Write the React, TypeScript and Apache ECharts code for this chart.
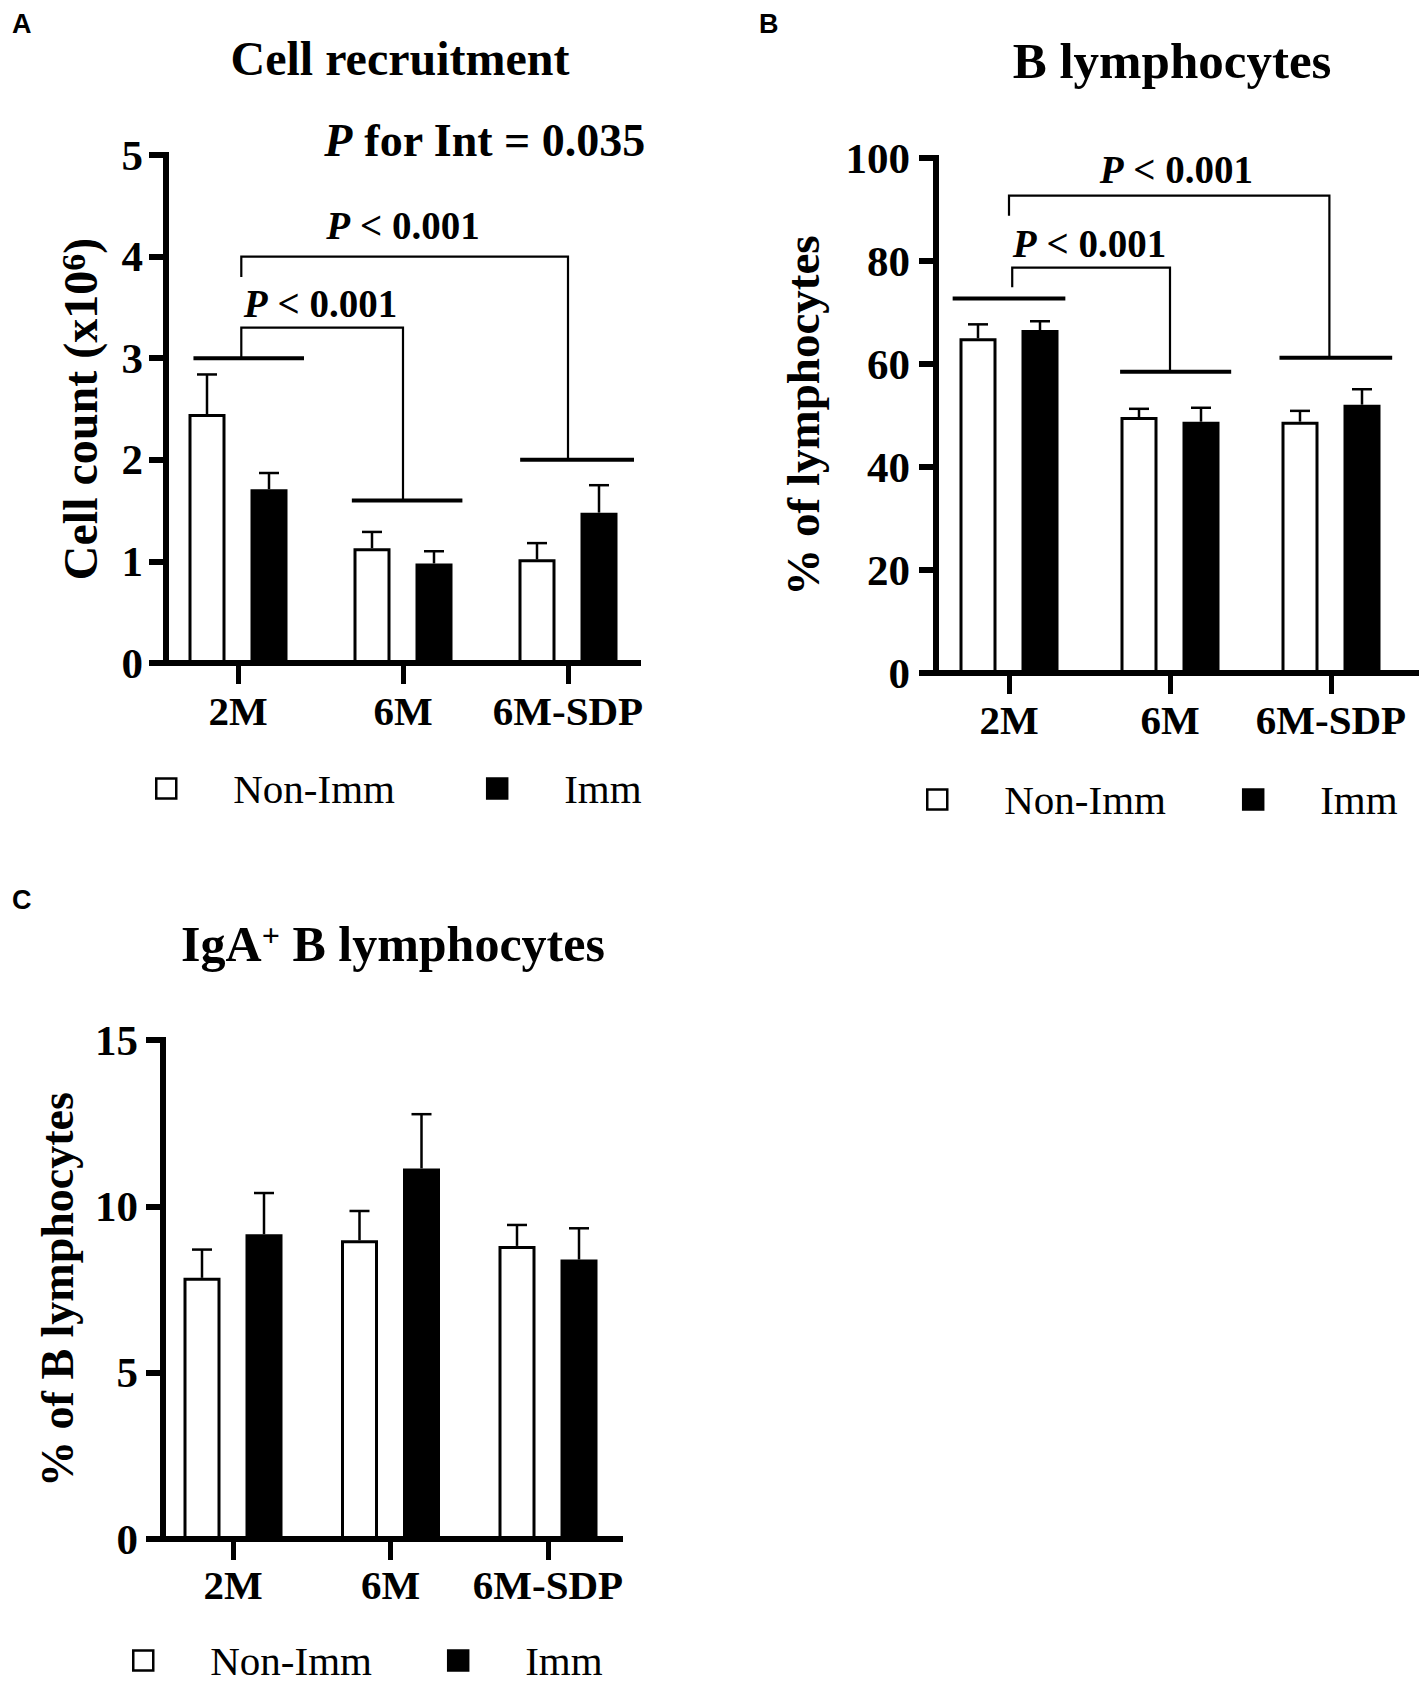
import React, { useEffect, useRef } from "react";
import * as echarts from "echarts";

// ---------------- data ----------------
const CATEGORIES = ["2M", "6M", "6M-SDP"];
const GROUP_NAMES = ["Non-Imm", "Imm"];

// Panel A — Cell recruitment (cell count x10^6)
const A_Y_TICKS = [0, 1, 2, 3, 4, 5];
const A_NON_IMM_MEAN = [2.45, 1.13, 1.02];
const A_NON_IMM_SEM = [0.39, 0.16, 0.16];
const A_IMM_MEAN = [1.71, 0.98, 1.48];
const A_IMM_SEM = [0.16, 0.12, 0.27];
const A_GROUP_BAR_Y = [3.0, 1.6, 2.0];
// [fromCategory, fromY, topY, toCategory, toY]
const A_BRACKETS = [
  [0, 3.0, 3.3, 1, 1.6],
  [0, 3.8, 4.0, 2, 2.0],
];
const A_P_LABELS = ["P < 0.001", "P < 0.001"];
const A_P_LABEL_AT = [
  [0, 3.4],
  [1, 4.17],
];

// Panel B — B lymphocytes (% of lymphocytes)
const B_Y_TICKS = [0, 20, 40, 60, 80, 100];
const B_NON_IMM_MEAN = [65.0, 49.7, 48.8];
const B_NON_IMM_SEM = [2.7, 1.6, 2.1];
const B_IMM_MEAN = [66.6, 48.8, 52.1];
const B_IMM_SEM = [1.7, 2.7, 3.0];
const B_GROUP_BAR_Y = [72.7, 58.5, 61.2];
const B_BRACKETS = [
  [0, 74.9, 78.7, 1, 58.5],
  [0, 88.8, 92.7, 2, 61.2],
];
const B_P_LABELS = ["P < 0.001", "P < 0.001"];
const B_P_LABEL_AT = [
  [0, 80.8],
  [1, 95.2],
];

// Panel C — IgA+ B lymphocytes (% of B lymphocytes)
const C_Y_TICKS = [0, 5, 10, 15];
const C_NON_IMM_MEAN = [7.85, 8.98, 8.81];
const C_NON_IMM_SEM = [0.85, 0.88, 0.63];
const C_IMM_MEAN = [9.16, 11.14, 8.4];
const C_IMM_SEM = [1.24, 1.63, 0.94];

// ---------------- layout / style ----------------
const SERIF = '"Liberation Serif", "Times New Roman", Times, serif';
const SANS = '"Liberation Sans", Arial, Helvetica, sans-serif';
const BAR_W = 37;
const BAR_SEP = 62; // centre-to-centre distance of the two bars
const BAR_BORDER = 3;
const ERR_W = 2.5;
const CAP_W = 20;
const P_FS = 39;
const TICK_FS = 43;
const CAT_FS = 41;

const LAYOUT_A = {
  axisLeft: 166, axisRight: 638, top: 155, bottom: 663, firstCenter: 238, band: 165,
  yNameGap: 62, yNameFs: 48, yLabelMargin: 23, catLabelMargin: 27,
  legendLeft: 155, legendTop: 768, legendGap: 91,
  groupSpans: [[-0.27, 0.4], [-0.31, 0.36], [-0.29, 0.4]],
  bracketOffsets: [[0.02, 0], [0.02, 0.0]],
  labelOffsets: [0.5, 0.0],
};
const LAYOUT_B = {
  axisLeft: 936, axisRight: 1416, top: 158, bottom: 673, firstCenter: 1009, band: 161,
  yNameGap: 110, yNameFs: 47, yLabelMargin: 26, catLabelMargin: 26,
  legendLeft: 926, legendTop: 779, legendGap: 76,
  groupSpans: [[-0.35, 0.35], [-0.31, 0.38], [-0.32, 0.38]],
  bracketOffsets: [[0.02, 0], [0.0, -0.01]],
  labelOffsets: [0.5, 0.04],
};
const LAYOUT_C = {
  axisLeft: 163, axisRight: 620, top: 1040, bottom: 1539, firstCenter: 233, band: 157.5,
  yNameGap: 83, yNameFs: 46, yLabelMargin: 25, catLabelMargin: 25,
  legendLeft: 132, legendTop: 1640, legendGap: 75,
  groupSpans: [] as number[][],
  bracketOffsets: [] as number[][],
  labelOffsets: [] as number[],
};

const PANELS = [
  {
    key: "A", yTicks: A_Y_TICKS,
    nonImm: A_NON_IMM_MEAN, nonImmSem: A_NON_IMM_SEM, imm: A_IMM_MEAN, immSem: A_IMM_SEM,
    groupY: A_GROUP_BAR_Y, brackets: A_BRACKETS, pLabels: A_P_LABELS, pLabelAt: A_P_LABEL_AT,
    yName: "{a|Cell count (x10}{s|6}{a|)}", layout: LAYOUT_A,
  },
  {
    key: "B", yTicks: B_Y_TICKS,
    nonImm: B_NON_IMM_MEAN, nonImmSem: B_NON_IMM_SEM, imm: B_IMM_MEAN, immSem: B_IMM_SEM,
    groupY: B_GROUP_BAR_Y, brackets: B_BRACKETS, pLabels: B_P_LABELS, pLabelAt: B_P_LABEL_AT,
    yName: "{a|% of lymphocytes}", layout: LAYOUT_B,
  },
  {
    key: "C", yTicks: C_Y_TICKS,
    nonImm: C_NON_IMM_MEAN, nonImmSem: C_NON_IMM_SEM, imm: C_IMM_MEAN, immSem: C_IMM_SEM,
    groupY: [] as number[], brackets: [] as number[][], pLabels: [] as string[], pLabelAt: [] as number[][],
    yName: "{a|% of B lymphocytes}", layout: LAYOUT_C,
  },
];

function bandOf(api: any) {
  return api.coord([1, 0])[0] - api.coord([0, 0])[0];
}

function buildOption() {
  const grid: any[] = [];
  const xAxis: any[] = [];
  const yAxis: any[] = [];
  const series: any[] = [];
  const legend: any[] = [];

  PANELS.forEach((p, k) => {
    const L = p.layout;
    const gb = 2 * k;
    const ga = 2 * k + 1;
    const ymin = p.yTicks[0];
    const ymax = p.yTicks[p.yTicks.length - 1];
    const yint = p.yTicks[1] - p.yTicks[0];
    const h = L.bottom - L.top;
    const yNameRich = {
      a: { fontFamily: SERIF, fontSize: L.yNameFs, fontWeight: "bold", color: "#000", lineHeight: L.yNameFs },
      s: {
        fontFamily: SERIF, fontSize: Math.round(L.yNameFs * 0.7), fontWeight: "bold", color: "#000",
        lineHeight: Math.round(L.yNameFs * 0.7), verticalAlign: "top",
      },
    };

    grid.push({
      left: L.firstCenter - L.band / 2, top: L.top, width: L.band * CATEGORIES.length, height: h,
      containLabel: false, outerBoundsMode: "none",
    });
    grid.push({
      left: L.axisLeft, top: L.top, width: L.axisRight - L.axisLeft, height: h,
      containLabel: false, outerBoundsMode: "none",
    });

    xAxis.push({
      gridIndex: gb, type: "category", data: CATEGORIES, boundaryGap: true,
      axisLine: { show: false },
      axisTick: { show: true, alignWithLabel: true, interval: 0, length: 21, lineStyle: { color: "#000", width: 5 } },
      axisLabel: {
        interval: 0, margin: L.catLabelMargin, color: "#000",
        fontFamily: SERIF, fontSize: CAT_FS, fontWeight: "bold",
      },
      splitLine: { show: false },
    });
    xAxis.push({
      gridIndex: ga, type: "value", min: 0, max: 1,
      axisLine: { show: true, onZero: false, lineStyle: { color: "#000", width: 6, cap: "square" } },
      axisTick: { show: false }, axisLabel: { show: false }, splitLine: { show: false },
    });

    yAxis.push({ gridIndex: gb, type: "value", min: ymin, max: ymax, interval: yint, show: false });
    yAxis.push({
      gridIndex: ga, type: "value", min: ymin, max: ymax, interval: yint,
      name: p.yName, nameLocation: "middle", nameGap: L.yNameGap, nameMoveOverlap: false,
      nameTextStyle: { fontFamily: SERIF, fontSize: L.yNameFs, fontWeight: "bold", color: "#000", rich: yNameRich },
      axisLine: { show: true, onZero: false, lineStyle: { color: "#000", width: 6, cap: "square" } },
      axisTick: { show: true, length: 17, lineStyle: { color: "#000", width: 6 } },
      axisLabel: {
        margin: L.yLabelMargin, color: "#000", fontFamily: SERIF, fontSize: TICK_FS, fontWeight: "bold",
      },
      splitLine: { show: false },
    });

    const barBase = {
      type: "bar", xAxisIndex: gb, yAxisIndex: gb, barWidth: BAR_W,
      barGap: `${((BAR_SEP - BAR_W) / BAR_W) * 100}%`, z: 2, silent: true,
      emphasis: { disabled: true },
    };
    series.push({
      ...barBase, name: GROUP_NAMES[0], data: p.nonImm,
      itemStyle: { color: "#fff", borderColor: "#000", borderWidth: BAR_BORDER },
    });
    series.push({
      ...barBase, name: GROUP_NAMES[1], data: p.imm,
      itemStyle: { color: "#000", borderColor: "#000", borderWidth: BAR_BORDER },
    });

    // error bars (upper SEM only)
    [
      { mean: p.nonImm, sem: p.nonImmSem, side: -1 },
      { mean: p.imm, sem: p.immSem, side: 1 },
    ].forEach((g, gi) => {
      series.push({
        name: `${p.key}-${GROUP_NAMES[gi]}-sem`, type: "custom", xAxisIndex: gb, yAxisIndex: gb,
        z: 3, silent: true, clip: false,
        data: g.mean.map((m, i) => [i, m, m + g.sem[i]]),
        encode: { x: 0, y: [1, 2] },
        renderItem: (params: any, api: any) => {
          const base = api.coord([api.value(0), api.value(1)]);
          const top = api.coord([api.value(0), api.value(2)]);
          const x = base[0] + (g.side * BAR_SEP) / 2;
          return {
            type: "group",
            children: [
              { type: "line", shape: { x1: x, y1: base[1], x2: x, y2: top[1] }, style: { stroke: "#000", lineWidth: ERR_W } },
              {
                type: "line", shape: { x1: x - CAP_W / 2, y1: top[1], x2: x + CAP_W / 2, y2: top[1] },
                style: { stroke: "#000", lineWidth: ERR_W },
              },
            ],
          };
        },
      });
    });

    if (p.groupY.length) {
      series.push({
        name: `${p.key}-group-lines`, type: "custom", xAxisIndex: gb, yAxisIndex: gb,
        z: 4, silent: true, clip: false,
        data: p.groupY.map((y, i) => [i, y]),
        encode: { x: 0, y: 1 },
        renderItem: (params: any, api: any) => {
          const pt = api.coord([api.value(0), api.value(1)]);
          const band = bandOf(api);
          const span = L.groupSpans[params.dataIndex];
          return {
            type: "line",
            shape: { x1: pt[0] + span[0] * band, y1: pt[1], x2: pt[0] + span[1] * band, y2: pt[1] },
            style: { stroke: "#000", lineWidth: 4 },
          };
        },
      });
    }

    if (p.brackets.length) {
      series.push({
        name: `${p.key}-brackets`, type: "custom", xAxisIndex: gb, yAxisIndex: gb,
        z: 4, silent: true, clip: false,
        data: p.brackets,
        encode: { x: 0, y: [1, 2, 4] },
        renderItem: (params: any, api: any) => {
          const band = bandOf(api);
          const off = L.bracketOffsets[params.dataIndex];
          const cL = api.value(0);
          const cR = api.value(3);
          const pL = api.coord([cL, api.value(1)]);
          const pT = api.coord([cL, api.value(2)]);
          const pR = api.coord([cR, api.value(4)]);
          const xL = pL[0] + off[0] * band;
          const xR = pR[0] + off[1] * band;
          return {
            type: "polyline",
            shape: { points: [[xL, pL[1]], [xL, pT[1]], [xR, pT[1]], [xR, pR[1]]] },
            style: { stroke: "#000", lineWidth: 2.2, fill: "none" },
          };
        },
      });
    }

    if (p.pLabels.length) {
      series.push({
        name: `${p.key}-p-values`, type: "custom", xAxisIndex: gb, yAxisIndex: gb,
        z: 5, silent: true, clip: false,
        data: p.pLabelAt,
        encode: { x: 0, y: 1 },
        renderItem: (params: any, api: any) => {
          const band = bandOf(api);
          const pt = api.coord([api.value(0), api.value(1)]);
          const txt = p.pLabels[params.dataIndex];
          return {
            type: "text",
            x: pt[0] + L.labelOffsets[params.dataIndex] * band,
            y: pt[1] - 0.35 * P_FS,
            style: {
              text: `{i|${txt.charAt(0)}}${txt.slice(1)}`,
              fill: "#000", fontFamily: SERIF, fontSize: P_FS, fontWeight: "bold",
              align: "center", verticalAlign: "middle",
              rich: { i: { fontFamily: SERIF, fontSize: P_FS, fontWeight: "bold", fontStyle: "italic", fill: "#000" } },
            },
          };
        },
      });
    }

    legend.push({
      left: L.legendLeft, top: L.legendTop, orient: "horizontal", padding: 0,
      itemWidth: 20, itemHeight: 20, itemGap: L.legendGap, selectedMode: false, icon: "rect",
      data: [
        { name: GROUP_NAMES[0], itemStyle: { color: "#fff", borderColor: "#000", borderWidth: 2.5 } },
        { name: GROUP_NAMES[1], itemStyle: { color: "#000", borderColor: "#000", borderWidth: 2.5 } },
      ],
      textStyle: { fontFamily: SERIF, fontSize: 41, color: "#000", lineHeight: 40, padding: [0, 0, 0, 52] },
    });
  });

  const titleRich = {
    a: { fontFamily: SERIF, fontSize: 50, fontWeight: "bold", fill: "#000", lineHeight: 50 },
    s: { fontFamily: SERIF, fontSize: 32, fontWeight: "bold", fill: "#000", lineHeight: 32, verticalAlign: "top" },
  };
  const letterStyle = { fontFamily: SANS, fontSize: 27, fontWeight: "bold", fill: "#000", align: "left", verticalAlign: "middle" };

  const graphic = [
    { type: "text", x: 12, y: 24, style: { ...letterStyle, text: "A" } },
    { type: "text", x: 759, y: 24, style: { ...letterStyle, text: "B" } },
    { type: "text", x: 12, y: 900, style: { ...letterStyle, text: "C" } },
    { type: "text", x: 400, y: 58, style: { text: "Cell recruitment", fontFamily: SERIF, fontSize: 48, fontWeight: "bold", fill: "#000", align: "center", verticalAlign: "middle" } },
    { type: "text", x: 1172, y: 61, style: { text: "B lymphocytes", fontFamily: SERIF, fontSize: 51, fontWeight: "bold", fill: "#000", align: "center", verticalAlign: "middle" } },
    { type: "text", x: 393, y: 944, style: { text: "{a|IgA}{s|+}{a| B lymphocytes}", fontFamily: SERIF, fontSize: 50, fontWeight: "bold", fill: "#000", align: "center", verticalAlign: "middle", rich: titleRich } },
    {
      type: "text", x: 485, y: 140,
      style: {
        text: "{i|P} for Int = 0.035", fontFamily: SERIF, fontSize: 46, fontWeight: "bold", fill: "#000",
        align: "center", verticalAlign: "middle",
        rich: { i: { fontFamily: SERIF, fontSize: 46, fontWeight: "bold", fontStyle: "italic", fill: "#000" } },
      },
    },
  ];

  return {
    animation: false,
    backgroundColor: "#fff",
    tooltip: { show: false },
    grid, xAxis, yAxis, series, legend,
    graphic: { elements: graphic },
  };
}

export default function App() {
  const ref = useRef<HTMLDivElement>(null);
  useEffect(() => {
    if (!ref.current) return;
    const chart = echarts.init(ref.current, null, { renderer: "svg" });
    chart.setOption(buildOption() as any);
    return () => chart.dispose();
  }, []);
  return (
    <div
      ref={ref}
      style={{ position: "absolute", left: 0, top: 0, width: 1421, height: 1683, background: "#fff" }}
    />
  );
}
